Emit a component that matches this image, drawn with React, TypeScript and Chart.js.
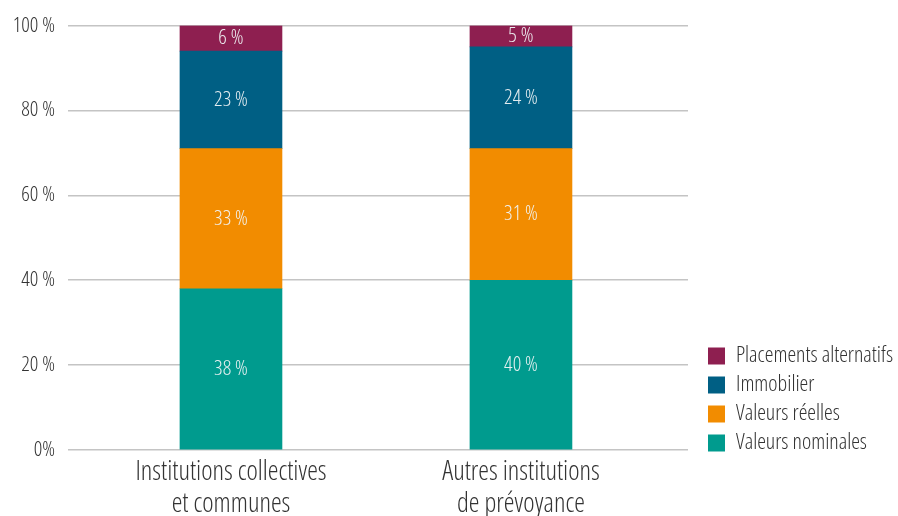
import React, { useEffect, useRef } from 'react';
import { Chart, registerables } from 'chart.js';

Chart.register(...registerables);

const categories: string[][] = [
  ['Institutions collectives', 'et communes'],
  ['Autres institutions', 'de prévoyance'],
];
const seriesNames = ['Valeurs nominales', 'Valeurs réelles', 'Immobilier', 'Placements alternatifs'];
const valeursNominales = [38, 40];
const valeursReelles = [33, 31];
const immobilier = [23, 24];
const placementsAlternatifs = [6, 5];
const yTicks = [0, 20, 40, 60, 80, 100];

const seriesValues = [valeursNominales, valeursReelles, immobilier, placementsAlternatifs];
const colors = ['#009B8E', '#F28C00', '#005F84', '#8E1F50'];
const FONT = "'Open Sans', sans-serif";
const WEIGHT = 'condensed 300';

const valueLabels = {
  id: 'valueLabels',
  afterDatasetsDraw(chart: any) {
    const ctx = chart.ctx;
    ctx.save();
    ctx.font = `${WEIGHT} 21px ${FONT}`;
    ctx.fillStyle = 'rgba(240,244,246,0.95)';
    ctx.textAlign = 'center';
    ctx.textBaseline = 'middle';
    chart.data.datasets.forEach((ds: any, di: number) => {
      const meta = chart.getDatasetMeta(di);
      meta.data.forEach((el: any, i: number) => {
        const v = ds.data[i].y;
        const y = (el.y + el.base) / 2;
        ctx.fillText(`${v} %`, el.x, y);
      });
    });
    ctx.restore();
  },
};

const legendPlacer = {
  id: 'legendPlacer',
  beforeLayout(chart: any) {
    const lg = chart.legend;
    if (lg && !lg.__patched) {
      const orig = lg.fit.bind(lg);
      lg.fit = function () {
        orig();
        this.width = 210;
      };
      lg.__patched = true;
    }
  },
  afterLayout(chart: any) {
    const lg = chart.legend;
    if (!lg) return;
    lg.left += 13;
    lg.right += 13;
    lg.top -= 55;
    lg.bottom -= 55;
  },
};

export default function App() {
  const ref = useRef<HTMLCanvasElement | null>(null);
  useEffect(() => {
    if (!ref.current) return;
    const chart = new Chart(ref.current, {
      type: 'bar',
      data: {
        datasets: seriesNames.map((name, si) => ({
          label: name,
          data: seriesValues[si].map((v, i) => ({ x: i, y: v })),
          backgroundColor: colors[si],
          borderWidth: 0,
          barThickness: 102,
        })),
      },
      options: {
        animation: false,
        responsive: false,
        layout: { padding: { top: 25, right: 0, left: 0, bottom: 0 } },
        plugins: {
          tooltip: { enabled: false },
          legend: {
            position: 'right',
            align: 'end',
            reverse: true,
            labels: {
              boxWidth: 17,
              boxHeight: 17,
              padding: 7,
              color: '#333333',
              font: { family: FONT, weight: WEIGHT, size: 22 },
            },
          },
        },
        scales: {
          x: {
            type: 'linear',
            stacked: true,
            offset: false,
            min: -0.562,
            max: 1.576,
            grid: { display: false, offset: false, drawTicks: false },
            border: { display: false },
            afterBuildTicks: (scale: any) => {
              scale.ticks = categories.map((_, i) => ({ value: i }));
            },
            afterFit: (scale: any) => {
              scale.height = 66;
            },
            ticks: {
              autoSkip: false,
              maxRotation: 0,
              padding: 7,
              color: '#333333',
              font: { family: FONT, weight: WEIGHT, size: 27, lineHeight: 1.167 },
              callback: (v: any) => categories[v] ?? '',
            },
          },
          y: {
            stacked: true,
            min: 0,
            max: 100,
            grid: { color: '#c4c4c4', lineWidth: 1.5, drawTicks: false },
            border: { display: false },
            afterBuildTicks: (scale: any) => {
              scale.ticks = yTicks.map((v) => ({ value: v }));
            },
            afterFit: (scale: any) => {
              scale.width = 68;
            },
            ticks: {
              padding: 13,
              color: '#333333',
              font: { family: FONT, weight: WEIGHT, size: 21 },
              callback: (v: any) => (v === 0 ? '0%' : `${v} %`),
            },
          },
        },
      },
      plugins: [valueLabels, legendPlacer],
    } as any);
    return () => chart.destroy();
  }, []);
  return (
    <div style={{ position: 'absolute', left: 0, top: 0, width: 898, height: 516, background: '#fff' }}>
      <canvas ref={ref} width={898} height={516} />
    </div>
  );
}
